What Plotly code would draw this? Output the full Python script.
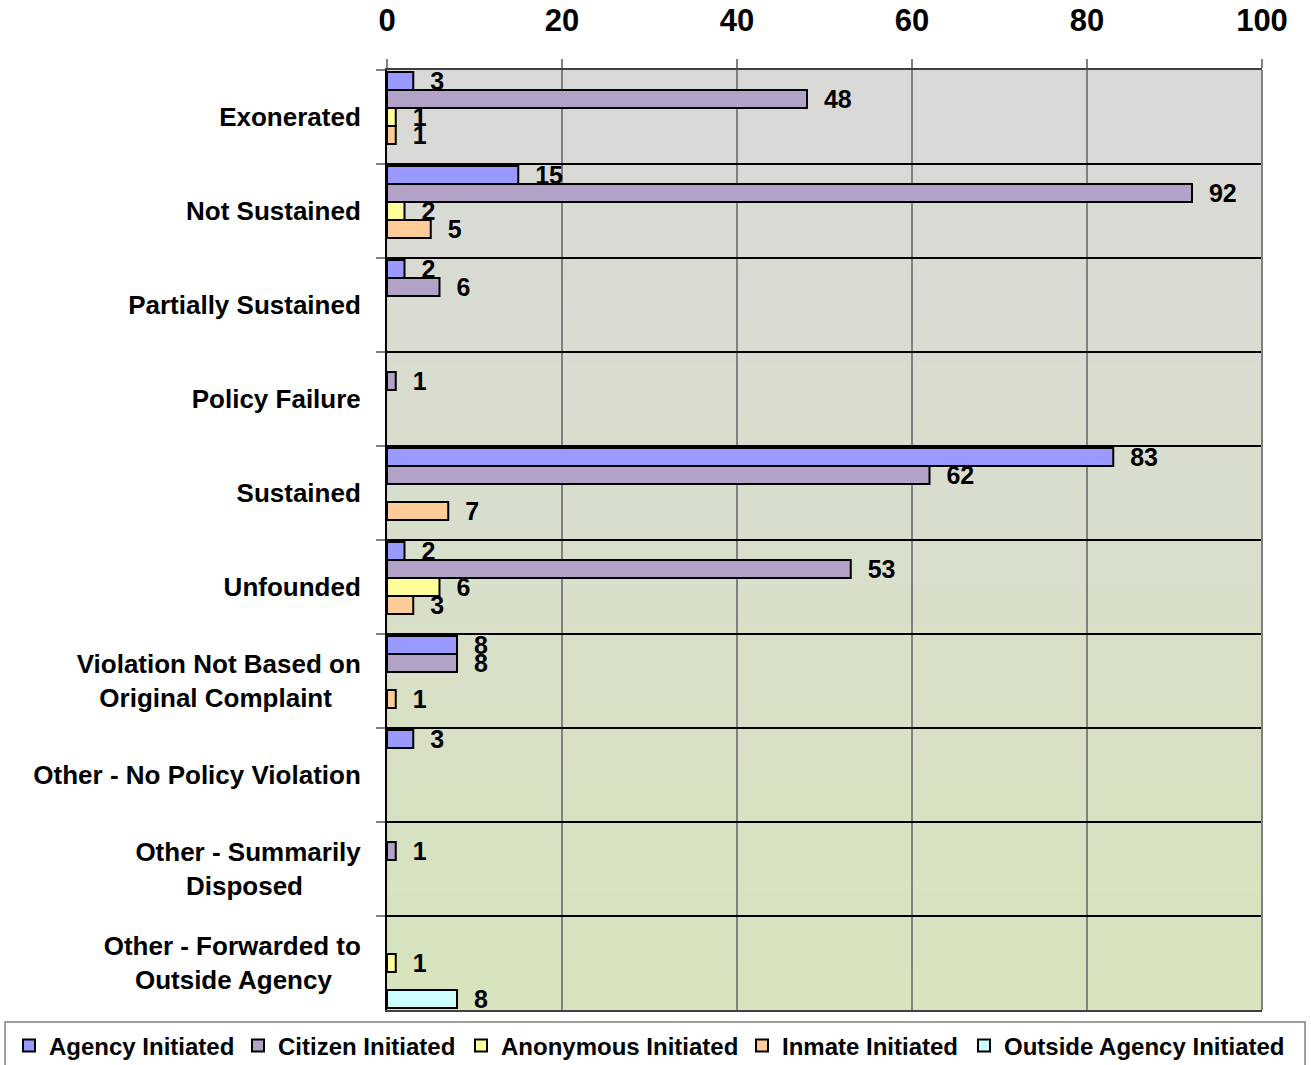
import plotly.graph_objects as go

NB = "\u00a0"
categories = [
    "Exonerated",
    "Not Sustained",
    "Partially Sustained",
    "Policy Failure",
    "Sustained",
    "Unfounded",
    "Violation Not Based on<br>Original Complaint" + NB * 4,
    "Other - No Policy Violation",
    "Other - Summarily<br>Disposed" + NB * 8,
    "Other - Forwarded to<br>Outside Agency" + NB * 4,
]
agency = [3, 15, 2, None, 83, 2, 8, 3, None, None]
citizen = [48, 92, 6, 1, 62, 53, 8, None, 1, None]
anonymous = [1, 2, None, None, None, 6, None, None, None, 1]
inmate = [1, 5, None, None, 7, 3, 1, None, None, None]
outside = [None, None, None, None, None, None, None, None, None, 8]

series = [
    ("Agency Initiated", agency, "#9999FF"),
    ("Citizen Initiated", citizen, "#B3A2C7"),
    ("Anonymous Initiated", anonymous, "#FFFF99"),
    ("Inmate Initiated", inmate, "#FFCC99"),
    ("Outside Agency Initiated", outside, "#CCFFFF"),
]
x_ticks = [0, 20, 40, 60, 80, 100]

FONT = "Liberation Sans, Arial, sans-serif"
W, H = 1311, 1065
legend_text_x = [50, 279, 502, 783, 1005]

fig = go.Figure()
legend_layouts = {}
for i, (name, vals, color) in enumerate(series):
    lname = "legend" if i == 0 else "legend%d" % (i + 1)
    fig.add_trace(go.Bar(
        y=categories, x=vals, name=name, orientation="h",
        marker=dict(color=color, line=dict(color="black", width=2)),
        texttemplate=NB + NB + "%{x}", textposition="outside",
        constraintext="none", cliponaxis=False,
        textfont=dict(family=FONT, size=25, color="black", weight="bold"),
        legend=lname,
    ))
    legend_layouts[lname] = dict(
        orientation="h", xref="container", yref="container",
        x=(legend_text_x[i] - 41) / W, xanchor="left",
        y=1 - 1046 / H, yanchor="middle",
        font=dict(family=FONT, size=24, color="black", weight="bold"),
        bgcolor="rgba(0,0,0,0)", itemwidth=30,
    )

# gradient background
shapes = []
N = 80
top = (217, 217, 217)
bot = (215, 228, 189)
for i in range(N):
    t = (i + 0.5) / N
    c = tuple(round(top[k] + (bot[k] - top[k]) * t) for k in range(3))
    shapes.append(dict(type="rect", xref="paper", yref="paper",
                       x0=0, x1=1, y0=1 - (i + 1) / N - 0.0005, y1=1 - i / N + 0.0005,
                       fillcolor="rgb(%d,%d,%d)" % c, line=dict(width=0), layer="below"))
# right edge
shapes.append(dict(type="line", xref="paper", yref="paper", x0=1, x1=1, y0=0, y1=1,
                   line=dict(color="#808080", width=2)))
# legend box
shapes.append(dict(type="rect", xref="paper", yref="paper",
                   x0=(5 - 387) / 875, x1=(1305 - 387) / 875,
                   y0=(1010 - 1068) / 940, y1=(1010 - 1022) / 940,
                   line=dict(color="#808080", width=1.5), fillcolor="rgba(0,0,0,0)"))

fig.update_layout(
    width=W, height=H,
    margin=dict(l=387, r=49, t=70, b=55, autoexpand=False),
    paper_bgcolor="white",
    plot_bgcolor="rgba(0,0,0,0)",
    barmode="group", bargap=0.04, bargroupgap=0,
    shapes=shapes,
    showlegend=True,
    xaxis=dict(side="top", range=[0, 100], tickvals=x_ticks, automargin=False,
               showgrid=True, gridcolor="#808080", gridwidth=1.5,
               showline=True, linecolor="#404040", linewidth=2, mirror=True,
               ticks="outside", ticklen=9, tickcolor="#808080", tickwidth=1.5,
               ticklabelstandoff=16,
               tickfont=dict(family=FONT, size=31, color="black", weight="bold"),
               zeroline=False, fixedrange=True),
    yaxis=dict(type="category", categoryorder="array", categoryarray=categories,
               autorange="reversed", tickson="boundaries", automargin=False,
               showgrid=True, gridcolor="black", gridwidth=2,
               showline=True, linecolor="black", linewidth=2,
               ticks="outside", ticklen=9, tickcolor="#808080", tickwidth=1.5,
               ticklabelstandoff=19,
               tickfont=dict(family=FONT, size=26, color="black", weight="bold"),
               fixedrange=True),
    **legend_layouts,
)

fig.write_html("out.html", config={"displayModeBar": False},
               post_script="document.body.style.margin='0';document.body.style.overflow='hidden';")
